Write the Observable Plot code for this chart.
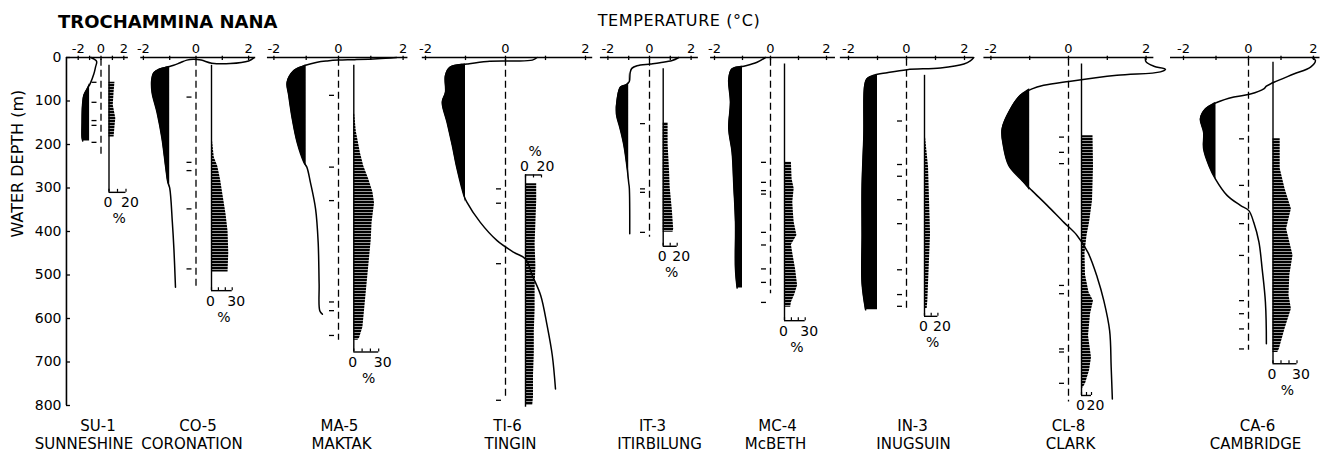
<!DOCTYPE html>
<html>
<head>
<meta charset="utf-8">
<script src="https://cdn.jsdelivr.net/npm/d3@7"></script>
<script src="https://cdn.jsdelivr.net/npm/@observablehq/plot@0.6"></script>
<style>
  html, body { margin: 0; padding: 0; background: #fff; }
  #chart { position: relative; width: 1328px; height: 453px; overflow: hidden; font-family: "DejaVu Sans", sans-serif; color: #000; }
  #chart > svg { position: absolute; left: 0; top: 0; }
  .title { position: absolute; font-weight: bold; font-size: 18px; line-height: 18px; white-space: nowrap; }
  .xtitle { position: absolute; font-size: 16px; line-height: 16px; letter-spacing: 0.6px; white-space: nowrap; text-align: center; }
</style>
</head>
<body>
<svg width="0" height="0" style="position:absolute">
  <defs>
    <pattern id="hatch" patternUnits="userSpaceOnUse" width="6" height="3">
      <rect x="0" y="0" width="6" height="2.4" fill="#000"></rect>
    </pattern>
  </defs>
</svg>
<div id="chart">
  <div class="title" style="left:58px; top:13px;">TROCHAMMINA NANA</div>
  <div class="xtitle" style="left:579px; top:13px; width:200px;">TEMPERATURE (°C)</div>
</div>
<script>
// ---------- DATA ----------
const stationCodes = ["SU-1", "CO-5", "MA-5", "TI-6", "IT-3", "MC-4", "IN-3", "CL-8", "CA-6"];
const stationNames = ["SUNNESHINE", "CORONATION", "MAKTAK", "TINGIN", "ITIRBILUNG", "McBETH", "INUGSUIN", "CLARK", "CAMBRIDGE"];
const depthTicks = [0, 100, 200, 300, 400, 500, 600, 700, 800];
const tempTicks = [-2, -1, 0, 1, 2];
const tempTickLabels = [-2, 0, 2];
const pctTicks20 = [0, 10, 20];
const pctTicks30 = [0, 10, 20, 30];
const pctScaleMax = [20, 30, 30, 20, 20, 30, 20, 20, 30];
// station water depth (end of dashed 0 °C line), m
const stationDepths = [225, 528, 650, 785, 413, 543, 585, 792, 673];

// temperature profiles: [depth m, temperature °C]
const tempSU1 = [[0,-0.88],[4,-0.6],[9,-0.38],[22,-0.48],[38,-0.63],[60,-0.95],[72,-1.21],[87,-1.5],[110,-1.62],[150,-1.66],[185,-1.66],[192,-1.6]];
const tempCO5 = [[1,2.2],[8,2.0],[14,1.3],[13,0.6],[6,0.2],[4,-0.1],[6,-0.35],[12,-0.6],[18,-0.85],[22,-1.1],[27,-1.4],[35,-1.6],[50,-1.68],[80,-1.67],[126,-1.48],[187,-1.29],[248,-1.16],[287,-1.07],[300,-1.0],[378,-0.9],[440,-0.84],[528,-0.78]];
const tempMA5 = [[0,1.8],[3,1.2],[5,0.5],[6,0.0],[8,-0.35],[11,-0.66],[18,-1.02],[30,-1.38],[57,-1.59],[87,-1.54],[141,-1.43],[195,-1.28],[241,-1.07],[252,-0.98],[287,-0.87],[348,-0.71],[424,-0.63],[520,-0.6],[582,-0.58],[590,-0.5]];
const tempTI6 = [[0,0.79],[6,0.67],[8,0.2],[9,-0.46],[15,-0.96],[22,-1.38],[41,-1.5],[80,-1.5],[103,-1.58],[149,-1.46],[202,-1.33],[256,-1.21],[317,-1.04],[332,-0.97],[379,-0.63],[421,-0.21],[448,0.21],[463,0.5],[501,0.67],[547,0.88],[616,1.04],[685,1.17],[762,1.25]];
const tempIT3 = [[0,1.41],[7,1.09],[12,0.5],[15,0.05],[19,-0.6],[25,-0.85],[35,-0.93],[55,-0.97],[62,-1.1],[68,-1.39],[95,-1.55],[130,-1.59],[160,-1.43],[202,-1.23],[256,-1.07],[288,-1.0],[300,-0.97],[405,-0.95]];
const tempMC4 = [[0,-0.18],[11,-0.48],[20,-0.95],[26,-1.37],[49,-1.49],[103,-1.43],[164,-1.49],[218,-1.37],[294,-1.31],[379,-1.25],[486,-1.25],[530,-1.19]];
const tempIN3 = [[0,2.32],[8,2.2],[15,1.98],[24,1.17],[28,0.02],[35,-0.67],[41,-1.13],[49,-1.36],[64,-1.44],[179,-1.47],[294,-1.53],[409,-1.53],[520,-1.53],[580,-1.41]];
const tempCL8 = [[0,1.98],[10,2.0],[20,2.2],[27,2.5],[33,2.37],[41,1.25],[55,0.01],[64,-0.64],[72,-0.94],[87,-1.24],[118,-1.49],[164,-1.71],[202,-1.68],[248,-1.54],[279,-1.24],[306,-0.94],[340,-0.55],[379,-0.12],[409,0.22],[448,0.5],[505,0.74],[559,0.91],[628,1.06],[712,1.1],[785,1.13]];
const tempCA6 = [[0,1.96],[7,2.06],[22,1.91],[38,1.39],[57,0.78],[66,0.55],[72,0.47],[84,0.06],[91,-0.45],[103,-0.96],[118,-1.32],[141,-1.48],[172,-1.38],[210,-1.38],[248,-1.22],[279,-1.02],[317,-0.66],[340,-0.25],[352,0.01],[379,0.16],[424,0.32],[486,0.42],[562,0.52],[658,0.55]];

// sample depths (m)
const samplesSU1 = [57, 103, 145, 156, 195];
const samplesCO5 = [91, 241, 260, 348, 486];
const samplesMA5 = [87, 252, 329, 562, 582, 639];
const samplesTI6 = [302, 335, 474, 788];
const samplesIT3 = [152, 302, 310, 402];
const samplesMC4 = [241, 287, 306, 314, 402, 431, 486, 517, 563];
const samplesIN3 = [146, 246, 273, 327, 382, 488, 545, 572];
const samplesCL8 = [183, 218, 244, 524, 543, 670, 677, 749];
const samplesCA6 = [187, 294, 382, 455, 559, 589, 624, 670];

// Trochammina nana abundance: [depth m, %]
const pctSU1 = [[57,7],[80,6],[110,5],[140,8],[160,7],[183,6]];
const pctCO5 = [[185,1],[230,4],[250,9],[280,13],[320,17],[360,21],[400,24],[450,25],[493,24]];
const pctMA5 = [[130,1],[170,3],[220,8],[250,12],[280,18],[310,23],[335,25],[380,22],[420,21],[480,18],[560,14],[620,11],[645,7],[650,5]];
const pctTI6 = [[290,14],[330,14],[380,13],[430,12],[480,13],[530,12],[580,12],[630,11],[680,11],[730,10],[780,10],[800,9]];
const pctIT3 = [[150,7],[200,7],[260,9],[300,10],[350,13],[395,15],[402,14]];
const pctMC4 = [[241,10],[280,11],[302,14],[333,12],[360,13],[379,14],[409,18],[431,10],[460,13],[486,16],[524,19],[545,15],[563,10],[574,9]];
const pctIN3 = [[175,1],[252,6],[329,7.5],[406,9],[482,7],[559,5],[577,4]];
const pctCL8 = [[180,23],[250,24],[330,22],[380,16],[410,11],[450,7],[500,8],[540,15],[560,24],[590,18],[640,14],[690,20],[720,16],[750,8],[760,3]];
const pctCA6 = [[187,9],[256,9],[302,15],[348,23],[394,17],[455,25],[501,21],[547,20],[578,23],[624,15],[670,8],[678,6]];

// ---------- LAYOUT (pixel placement of each panel) ----------
const layout = [
  {x0: 100.5, k: 11.4, axisMin: -3.03, axisMax: 2.4,  pctBase: 108.5, pctK: 0.85, pctTop: 18,  pctBottom: 310, scaleTop: false, codeDx: -3, nameDx: -17, pctSign: true},
  {x0: 195.5, k: 26.3, axisMin: -2.1,  axisMax: 2.27, pctBase: 211,   pctK: 0.69, pctTop: 18,  pctBottom: 536, scaleTop: false, codeDx: 2,  nameDx: -4,  pctSign: true},
  {x0: 338,   k: 32.3, axisMin: -2.2,  axisMax: 2.15, pctBase: 353.3, pctK: 0.83, pctTop: 18,  pctBottom: 677, scaleTop: false, codeDx: 1,  nameDx: 3,   pctSign: true},
  {x0: 505,   k: 40,   axisMin: -2.08, axisMax: 2.18, pctBase: 525,   pctK: 0.8,  pctTop: 270, pctBottom: 804, scaleTop: true,  codeDx: 2,  nameDx: 5,   pctSign: true},
  {x0: 649,   k: 20.8, axisMin: -2.36, axisMax: 2.35, pctBase: 662.7, pctK: 0.7,  pctTop: 26,  pctBottom: 434, scaleTop: false, codeDx: 3,  nameDx: 10,  pctSign: true},
  {x0: 770,   k: 28,   axisMin: -2.14, axisMax: 2.32, pctBase: 784,   pctK: 0.69, pctTop: 15,  pctBottom: 605, scaleTop: false, codeDx: 7,  nameDx: 5,   pctSign: true},
  {x0: 906,   k: 29,   axisMin: -2.28, axisMax: 2.32, pctBase: 924,   pctK: 0.67, pctTop: 41,  pctBottom: 595, scaleTop: false, codeDx: 6,  nameDx: 7,   pctSign: true},
  {x0: 1068,  k: 38.8, axisMin: -2.18, axisMax: 2.2,  pctBase: 1081,  pctK: 0.5,  pctTop: 15,  pctBottom: 777, scaleTop: false, codeDx: 0,  nameDx: 2,   pctSign: false},
  {x0: 1248,  k: 32.5, axisMin: -2.4,  axisMax: 2.2,  pctBase: 1272.5,pctK: 0.8,  pctTop: 11,  pctBottom: 704, scaleTop: false, codeDx: 9,  nameDx: 7,   pctSign: true}
];

const tempProfiles = [tempSU1, tempCO5, tempMA5, tempTI6, tempIT3, tempMC4, tempIN3, tempCL8, tempCA6];
const sampleDepths = [samplesSU1, samplesCO5, samplesMA5, samplesTI6, samplesIT3, samplesMC4, samplesIN3, samplesCL8, samplesCA6];
const pctProfiles = [pctSU1, pctCO5, pctMA5, pctTI6, pctIT3, pctMC4, pctIN3, pctCL8, pctCA6];

const W = 1328, H = 453, MT = 57, MB = 48;
const pxPerMetre = (H - MB - MT) / 800;
const chart = document.getElementById("chart");

function layer(xOpts, marks) {
  return Plot.plot({
    width: W, height: H,
    marginTop: MT, marginBottom: MB, marginLeft: 66, marginRight: 0,
    x: {...xOpts, axis: null},
    y: {domain: [0, 800], reverse: true, axis: null},
    style: {background: "transparent", fontFamily: "'DejaVu Sans', sans-serif", fontSize: "13px", color: "black", overflow: "visible"},
    marks
  });
}

function pctLayer(i) {
  const L = layout[i];
  const max = pctScaleMax[i];
  const ticks = max === 30 ? pctTicks30 : pctTicks20;
  const end = L.scaleTop ? L.pctTop : L.pctBottom;
  const tickLen = 3 / pxPerMetre * (L.scaleTop ? 1 : -1);
  const marks = [
    Plot.areaX(pctProfiles[i], {y: d => d[0], x: d => d[1], fill: "url(#hatch)"}),
    Plot.ruleX([0], {y1: L.pctTop, y2: L.pctBottom, stroke: "black", strokeWidth: 1.4}),
    Plot.ruleY([end], {x1: 0, x2: max, stroke: "black", strokeWidth: 1.4}),
    Plot.ruleX(ticks, {y1: end, y2: end + tickLen, stroke: "black", strokeWidth: 1.2}),
    Plot.text([0], {x: d => d, y: end, dx: -1, dy: L.scaleTop ? -4 : 15, lineAnchor: "bottom", fontSize: 14, fill: "black"}),
    Plot.text([max], {x: d => d, y: end, dx: 4, dy: L.scaleTop ? -4 : 15, lineAnchor: "bottom", fontSize: 14, fill: "black"})
  ];
  if (L.pctSign) marks.push(Plot.text(["%"], {x: max * 0.6, y: end, dy: L.scaleTop ? -19 : 31, lineAnchor: "bottom", fontSize: 14, fill: "black"}));
  return layer({domain: [0, max], range: [L.pctBase, L.pctBase + max * L.pctK]}, marks);
}

function tempLayer(i) {
  const L = layout[i];
  const prof = tempProfiles[i];
  const cold = prof.filter(d => d[1] <= -0.93);
  const px = n => n / L.k;
  const marks = [
    Plot.areaX(cold, {y: d => d[0], x1: -1, x2: d => Math.min(d[1], -1), fill: "black", curve: "catmull-rom"}),
    Plot.ruleX([0], {y1: 4, y2: stationDepths[i], stroke: "black", strokeWidth: 1.3, strokeDasharray: "7,4"}),
    Plot.ruleY(sampleDepths[i], {x1: px(-9), x2: px(-4), stroke: "black", strokeWidth: 1.3}),
    Plot.lineX(prof, {x: d => d[1], y: d => d[0], curve: "catmull-rom", stroke: "black", strokeWidth: 1.5}),
    Plot.ruleY([0], {x1: L.axisMin, x2: L.axisMax, stroke: "black", strokeWidth: 1.6}),
    Plot.ruleX(tempTicks, {y1: -3, y2: 7, stroke: "black", strokeWidth: 1.3}),
    Plot.text(tempTickLabels, {x: d => d, y: 0, dy: -5, lineAnchor: "bottom", text: d => String(d), fontSize: 13, fill: "black"}),
    Plot.text([stationCodes[i]], {x: 0, y: 800, dx: L.codeDx, dy: 25, lineAnchor: "bottom", fontSize: 15, fill: "black"}),
    Plot.text([stationNames[i]], {x: 0, y: 800, dx: L.nameDx, dy: 43, lineAnchor: "bottom", fontSize: 15, fill: "black"})
  ];
  if (i === 0) {
    marks.push(
      Plot.ruleX([L.axisMin], {y1: 0, y2: 800, stroke: "black", strokeWidth: 1.6}),
      Plot.ruleY(depthTicks, {x1: L.axisMin, x2: L.axisMin + px(4), stroke: "black", strokeWidth: 1.3}),
      Plot.axisY(depthTicks, {anchor: "left", tickSize: 0, tickPadding: 5, fontSize: 14, label: null, tickFormat: d => String(d)}),
      Plot.text(["WATER DEPTH (m)"], {frameAnchor: "left", dx: -49, dy: 6, rotate: -90, fontSize: 16, fill: "black"})
    );
  }
  return layer({domain: [-2, 2], range: [L.x0 - 2 * L.k, L.x0 + 2 * L.k]}, marks);
}

for (let i = 0; i < stationCodes.length; i++) {
  chart.appendChild(pctLayer(i));
  chart.appendChild(tempLayer(i));
}
</script>
</body>
</html>
